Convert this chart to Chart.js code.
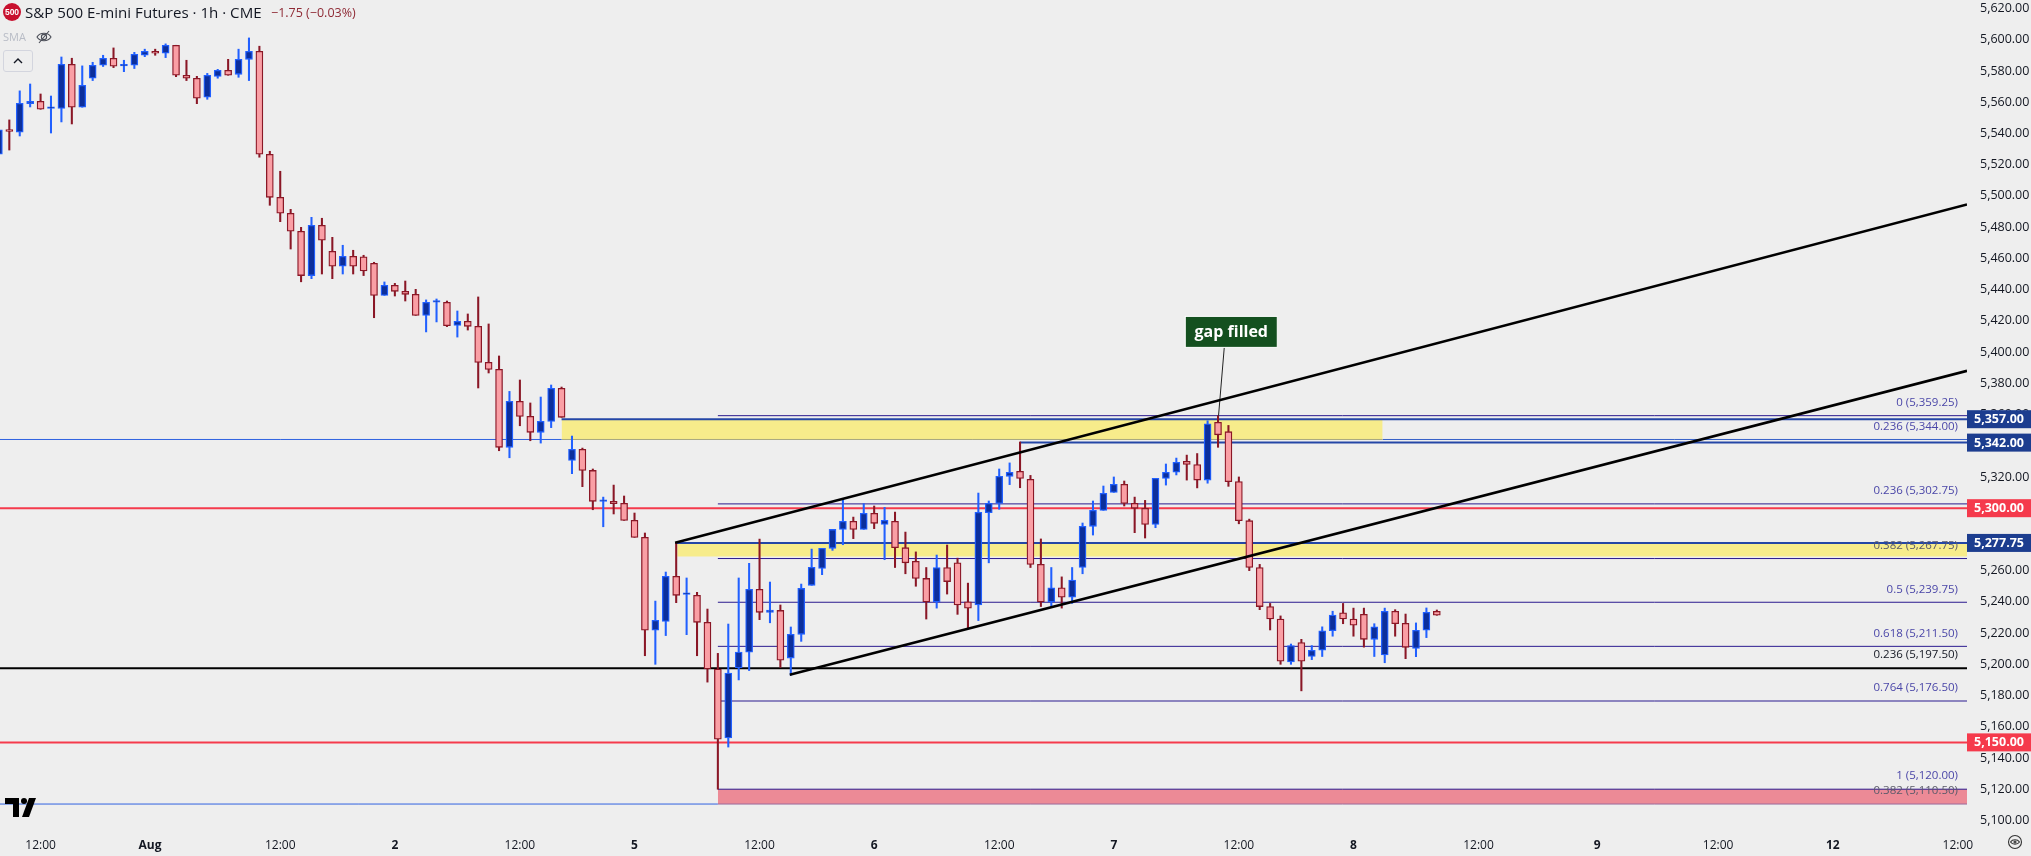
<!DOCTYPE html>
<html>
<head>
<meta charset="utf-8">
<title>S&amp;P 500 E-mini Futures</title>
<script src="https://cdn.jsdelivr.net/npm/chart.js@4"></script>
<style>
  html, body { margin: 0; padding: 0; background: #eeeeee; overflow: hidden; }
  body { width: 2031px; height: 856px; position: relative; font-family: "Open Sans", sans-serif; }
  #chart { position: absolute; left: 0; top: 0; }
  .hud { position: absolute; white-space: nowrap; }
  #logo { left: 3px; top: 3px; width: 18px; height: 18px; border-radius: 50%; background: #c8102e; color: #fff; font: bold 8.5px/18px "Liberation Sans", sans-serif; text-align: center; }
  #title { left: 25px; top: 2px; font-size: 15.1px; line-height: 20px; color: #131722; }
  #change { left: 271px; top: 3px; font-size: 12.5px; line-height: 20px; color: #8f2a35; }
  #sma { left: 3px; top: 29px; font-size: 11px; line-height: 16px; color: #b8bcc6; }
  #eye { left: 36px; top: 29px; }
  #collapse { left: 3px; top: 50px; width: 28px; height: 20px; border: 1px solid #d3d5de; border-radius: 3px; }
  #settings { left: 2007px; top: 834px; }
  #tvlogo { left: 5px; top: 796px; }
</style>
</head>
<body>
<canvas id="chart" width="2031" height="856"></canvas>
<div class="hud" id="logo">500</div>
<div class="hud" id="title">S&amp;P 500 E-mini Futures · 1h · CME</div>
<div class="hud" id="change">−1.75 (−0.03%)</div>
<div class="hud" id="sma">SMA</div>
<svg class="hud" id="eye" width="16" height="16" viewBox="0 0 16 16" fill="none" stroke="#4a4d57" stroke-width="1.1">
  <path d="M1 8c3-5 11-5 14 0c-3 5-11 5-14 0z"/><circle cx="8" cy="8" r="2.6"/><path d="M3 14L13 2"/>
</svg>
<div class="hud" id="collapse">
  <svg width="28" height="20" viewBox="0 0 28 20" fill="none" stroke="#131722" stroke-width="1.4"><path d="M10 12l4-4l4 4"/></svg>
</div>
<svg class="hud" id="settings" width="16" height="16" viewBox="0 0 16 16" fill="none" stroke="#333" stroke-width="1.1">
  <circle cx="8" cy="8" r="6.5"/><path d="M3.5 8c2-3 7-3 9 0c-2 3-7 3-9 0z"/><circle cx="8" cy="8" r="1"/>
</svg>
<svg class="hud" id="tvlogo" width="32" height="21" viewBox="0 0 32 21" fill="#000">
  <path d="M0 2h14v19h-6V8H0z"/><circle cx="19" cy="5" r="3"/><path d="M24 2h7l-7 19h-7z"/>
</svg>

<script>
// Candles, one entry per 1h bar
const opens = [5526.7,5541.5,5540.8,5559.1,5560.6,5556.1,5556.1,5584.3,5556.8,5575.4,5583.7,5588.2,5583.3,5583.7,5590.1,5592.7,5591.4,5596.5,5577.3,5575.4,
  5563.2,5576.6,5580.5,5577.9,5587.5,5592.7,5526.7,5499.1,5488.9,5477.4,5449,5481.2,5464.5,5455,5461.3,5461,5456.8,5436.3,5442.7,5438.9,
  5437,5423.5,5431.9,5431.9,5417.1,5419.7,5416.5,5393.4,5388.9,5339,5368.4,5358.8,5348.6,5355.6,5376.8,5330.6,5337.7,5324.2,5304.4,5304.4,
  5303.1,5292.2,5281.3,5221.8,5227.5,5256.4,5244.8,5244.2,5226.9,5197,5152.8,5197.7,5207.7,5248,5233.3,5234.5,5204,5219.2,5250.6,5261.4,
  5274.3,5286.4,5291.6,5286.4,5296.7,5289.6,5291.6,5274.7,5266,5255,5240,5262,5265,5240,5238,5297.1,5303.1,5320.4,5323.6,5318.5,
  5264,5240,5249,5243,5262,5288.4,5298.6,5310.1,5315.3,5303.1,5299.9,5289.6,5319.1,5323,5330,5328,5318,5355,5349,5317,
  5292,5262,5237,5229,5201.5,5214,5205,5209,5221.5,5233,5229,5232,5216,5206,5234,5226.3,5210.2,5221.8,5233.9];
const highs = [5542.3,5548.7,5567.3,5571.7,5565.3,5564,5589,5588.2,5583.3,5585.6,5590.1,5594.8,5586.9,5592,5594,5594,5597.4,5596.5,5586.9,5576.6,
  5578.5,5581.1,5587.5,5594,5601.2,5595.9,5528.6,5515.8,5491.4,5479.9,5486.3,5485.7,5473.5,5468.4,5465.2,5462,5457.5,5444.9,5444,5445.5,
  5440.2,5433.4,5434,5432.7,5426.3,5424.4,5435.3,5418,5397.5,5374.8,5382.1,5367.4,5371.2,5378.9,5377.6,5346.2,5338.5,5325.1,5307.1,5314.8,
  5307.8,5296.9,5284.1,5240.5,5259.1,5278.1,5255.3,5246.1,5235.4,5207,5225.8,5255.3,5264.7,5280.2,5252.7,5238,5223.9,5251.4,5273.8,5274.3,
  5286.4,5305.9,5294.3,5302.9,5301.4,5300.5,5297.5,5284.7,5272,5262,5270,5276.4,5268,5252,5309.7,5304.6,5325.1,5329,5342.4,5321,
  5280.3,5262,5256,5262,5290.5,5304.6,5314.2,5320,5317.4,5307.1,5305,5319.1,5328.3,5332.1,5334,5335,5356,5359.25,5353,5320,
  5293,5264,5239,5231,5213,5216,5212,5224,5234,5239,5236,5236,5226,5236,5235,5232.2,5226.5,5236.1,5234.8];
const lows = [5526.7,5529.4,5538.4,5557,5555.5,5540.3,5547.4,5546.1,5556.8,5573.9,5582.9,5582.2,5579.6,5581.6,5589.2,5590.1,5588.6,5576.4,5573.9,5559.1,
  5561.9,5575.4,5577.3,5576,5573.9,5524.8,5494,5483.5,5466,5445,5447,5450,5447,5450,5450,5449,5422,5436.3,5435.9,5432.7,
  5423.5,5412.9,5419.3,5416.3,5409.6,5414.1,5377,5386.6,5336.8,5332.3,5352.8,5343.2,5341.7,5351.6,5358.2,5322.1,5313.8,5299,5288.1,5296.3,
  5292.2,5281.3,5205.5,5200,5218.4,5239.5,5219,5205.5,5188.6,5120,5147,5190,5196,5228.6,5226.6,5198,5193,5214.7,5250.6,5257.4,
  5273,5276.6,5280.5,5286.4,5286.9,5267,5262,5258,5250,5229,5236,5245,5232,5223,5228,5265,5299.3,5315.1,5313.1,5262,
  5237,5237,5236,5239,5258,5282.8,5298.6,5310.1,5301.4,5284.3,5280.9,5287.5,5314.8,5321.3,5318,5313,5316,5339,5314,5290,
  5260,5235,5222,5200,5200,5183,5203,5205,5218,5226,5218,5211,5205,5201,5218,5203.6,5204.9,5217.1,5231.4];
const closes = [5542.3,5541.4,5559.3,5560.6,5555.5,5556.1,5584.3,5556.8,5570.9,5583.7,5588.2,5583.1,5583.3,5590.7,5592.7,5591.4,5596.5,5577.3,5575.4,5562.6,
  5577.3,5580.5,5577.3,5587.5,5592.7,5526.7,5499.1,5488.9,5477.4,5449,5481.2,5471.6,5455,5461.3,5455,5452,5436.3,5442.7,5438.9,5437,
  5423.5,5431.9,5431.9,5416.9,5419.7,5416.5,5393.4,5388.9,5339,5368.4,5358.8,5348.6,5355.6,5376.8,5358.2,5337.7,5324.2,5304.4,5304.4,5302.9,
  5292.2,5281.3,5221.8,5228.2,5256.4,5244.2,5244.8,5226.9,5197,5152,5194.4,5207.9,5248,5233.3,5234.8,5202.7,5219.2,5248.6,5262.1,5274.3,
  5286.4,5291.6,5286.4,5296.7,5290.3,5292.2,5274.7,5265,5255,5240,5262,5253,5238,5236,5297.3,5303.1,5320.4,5323,5319.1,5264,
  5240,5249,5243,5254,5288.4,5298.6,5309.5,5315.3,5303.1,5299.9,5289.6,5319.1,5323,5329.4,5328,5318,5354,5347,5317,5292,
  5262,5237,5229,5202,5212,5202,5209,5221.5,5231.5,5229,5225,5216,5224,5234,5226,5210.9,5221.8,5233.3,5231.4];

const priceTicks = [5620,5600,5580,5560,5540,5520,5500,5480,5460,5440,5420,5400,5380,5360,5340,5320,5300,5280,5260,5240,5220,5200,5180,5160,5140,5120,5100];
const timeTickBars = [4,14.5,27,38,50,61,73,84,96,107,119,130,142,153.4,165,176,188];
const timeTickLabels = ['12:00','Aug','12:00','2','12:00','5','12:00','6','12:00','7','12:00','8','12:00','9','12:00','12','12:00'];

// Price tags on the axis
const tagPrices = [5357,5342,5300,5277.75,5150];

// Fibonacci labels: price and text
const fibPrices = [5359.25,5344,5302.75,5267.75,5239.75,5211.5,5197.5,5176.5,5120,5110.5];
const fibLabels = ['0 (5,359.25)','0.236 (5,344.00)','0.236 (5,302.75)','0.382 (5,267.75)','0.5 (5,239.75)','0.618 (5,211.50)','0.236 (5,197.50)','0.764 (5,176.50)','1 (5,120.00)','0.382 (5,110.50)'];
const fibLinePrices = [5359.25,5302.75,5267.75,5239.75,5211.5,5176.5,5120];
const fibStartBar = 69;

// Zones: [start bar, top price, bottom price]
const zoneTop = [54,5357,5344];
const zoneTopEndBar = 132.8;
const zoneMid = [65.1,5277.75,5269];
const zoneLow = [69,5120,5110.5];

// Trend lines: two bar/price anchors each
const channelUpperBars = [64.9,188.88];
const channelUpperPrices = [5277.9,5494.5];
const channelLowerBars = [75.9,188.88];
const channelLowerPrices = [5193.3,5388];

const gapBars = [117.05,117.6];
const gapPrices = [5359.25,5403];

const X_MIN = 0.106, X_MAX = 188.88;
const BLUE_BODY = '#0c2f9c', BLUE_EDGE = '#2160ff', RED_BODY = '#fa9fa5', RED_EDGE = '#8a1726';
const NAVY = '#2446a6', FIB = '#2b1a8f', SIGNAL = '#f53a4c';
const isUp = i => closes[i] >= opens[i];
const bars = opens.map((_, i) => i);

// Horizontal level or sloped line drawn through the chart scales
function line(xs, ys, color, width, order) {
  return { type: 'line', data: xs.map((x, k) => ({ x, y: ys[k] })), borderColor: color, borderWidth: width, pointRadius: 0, order, tension: 0 };
}
function zone(start, end, top, bottom, color) {
  return { type: 'line', data: [{ x: start, y: top }, { x: end, y: top }], borderWidth: 0, pointRadius: 0, fill: { value: bottom }, backgroundColor: color, order: 20 };
}

const datasets = [
  zone(zoneTop[0], zoneTopEndBar, zoneTop[1], zoneTop[2], '#f7ec8b'),
  zone(zoneMid[0], X_MAX, zoneMid[1], zoneMid[2], '#f7ec8b'),
  zone(zoneLow[0], X_MAX, zoneLow[1], zoneLow[2], '#ec8a96'),
  line([X_MIN, zoneTop[0]], [5344, 5344], '#2f62e0', 1, 15),
  line([zoneTop[0], zoneTopEndBar], [5344, 5344], '#a8a880', 1, 15),
  line([zoneTopEndBar, X_MAX], [5344, 5344], '#3560c8', 1, 15),
  line([X_MIN, zoneLow[0]], [5110.5, 5110.5], '#2f62e0', 1, 15),
  line([zoneLow[0], X_MAX], [5110.5, 5110.5], '#9a6a9a', 1, 15),
  line([X_MIN, X_MAX], [5300, 5300], SIGNAL, 2, 14),
  line([X_MIN, X_MAX], [5150, 5150], SIGNAL, 2, 14),
  line([X_MIN, X_MAX], [5197.5, 5197.5], '#000000', 2, 14),
  line([zoneTop[0], X_MAX], [5357, 5357], NAVY, 2, 14),
  line([98, X_MAX], [5342, 5342], NAVY, 2, 14),
  line([zoneMid[0] - 0.1, X_MAX], [5277.75, 5277.75], NAVY, 2, 14),
  ...fibLinePrices.map(p => line([fibStartBar, X_MAX], [p, p], FIB, 1, 16)),
  {
    label: 'wicks', grouped: false, order: 6, barThickness: 1.4, barPercentage: 1,
    data: bars.map(i => ({ x: i, y: [lows[i], highs[i]] })),
    backgroundColor: bars.map(i => isUp(i) ? BLUE_EDGE : RED_EDGE)
  },
  {
    label: 'bodies', grouped: false, order: 5, barThickness: 7, barPercentage: 1, minBarLength: 1.6, borderSkipped: false, borderWidth: 1.3,
    data: bars.map(i => ({ x: i, y: [opens[i], closes[i]] })),
    backgroundColor: bars.map(i => isUp(i) ? BLUE_BODY : RED_BODY),
    borderColor: bars.map(i => isUp(i) ? BLUE_EDGE : RED_EDGE)
  },
  line(channelUpperBars, channelUpperPrices, '#000000', 2.6, 2),
  line(channelLowerBars, channelLowerPrices, '#000000', 2.6, 2),
  line(gapBars, gapPrices, '#222222', 1, 2)
];

// Axis tags, fib captions and the annotation box
const overlayLabels = {
  id: 'overlayLabels',
  afterDraw(chart) {
    const { ctx, scales: { x, y }, chartArea } = chart;
    ctx.save();
    ctx.font = '11.5px "Open Sans", sans-serif';
    ctx.textAlign = 'right';
    ctx.textBaseline = 'middle';
    fibPrices.forEach((p, k) => {
      ctx.fillStyle = p === 5197.5 ? '#131722' : (p === 5110.5 || p === 5267.75) ? '#5a5a6a' : '#4a46a8';
      ctx.fillText(fibLabels[k], chartArea.right - 9, y.getPixelForValue(p) - 13);
    });
    ctx.font = 'bold 12.5px "Open Sans", sans-serif';
    ctx.textAlign = 'center';
    tagPrices.forEach(p => {
      const py = y.getPixelForValue(p);
      ctx.fillStyle = (p === 5300 || p === 5150) ? SIGNAL : '#1c3d8f';
      ctx.fillRect(chartArea.right, py - 9, 2031 - chartArea.right, 18);
      ctx.fillStyle = '#ffffff';
      ctx.fillText(p.toLocaleString('en-US', { minimumFractionDigits: 2 }), (chartArea.right + 2031) / 2, py + 0.5);
    });
    const bx = x.getPixelForValue(gapBars[1]) - 39, by = y.getPixelForValue(gapPrices[1]) - 31;
    ctx.fillStyle = '#14501f';
    ctx.strokeStyle = '#ffffff';
    ctx.lineWidth = 1;
    ctx.fillRect(bx, by, 92, 31);
    ctx.strokeRect(bx, by, 92, 31);
    ctx.font = 'bold 16px "Open Sans", sans-serif';
    ctx.fillStyle = '#ffffff';
    ctx.fillText('gap filled', bx + 46, by + 16);
    ctx.restore();
  }
};

new Chart(document.getElementById('chart').getContext('2d'), {
  type: 'bar',
  data: { datasets },
  plugins: [overlayLabels],
  options: {
    responsive: false,
    animation: false,
    devicePixelRatio: 1,
    layout: { padding: 0 },
    plugins: { legend: { display: false }, tooltip: { enabled: false } },
    scales: {
      x: {
        type: 'linear', min: X_MIN, max: X_MAX, offset: false,
        grid: { display: false, offset: false }, border: { display: false },
        afterFit: s => { s.height = 34; s.paddingLeft = 0; s.paddingRight = 0; },
        afterBuildTicks: s => { s.ticks = timeTickBars.map(value => ({ value })); },
        ticks: {
          autoSkip: false, maxRotation: 0, padding: 8, color: '#131722',
          font: c => ({ family: '"Open Sans", sans-serif', size: 12, weight: c.tick && /:/.test(c.tick.label) ? 'normal' : 'bold' }),
          callback: v => timeTickLabels[timeTickBars.indexOf(v)]
        }
      },
      y: {
        position: 'right', min: 5099, max: 5625.5,
        grid: { display: false }, border: { display: false },
        afterFit: s => { s.width = 64; s.paddingTop = 0; s.paddingBottom = 0; },
        afterBuildTicks: s => { s.ticks = priceTicks.map(value => ({ value })); },
        ticks: {
          padding: 5, color: '#131722', font: { family: '"Open Sans", sans-serif', size: 12.5 },
          callback: v => v.toLocaleString('en-US', { minimumFractionDigits: 2 })
        }
      }
    }
  }
});
</script>
</body>
</html>
